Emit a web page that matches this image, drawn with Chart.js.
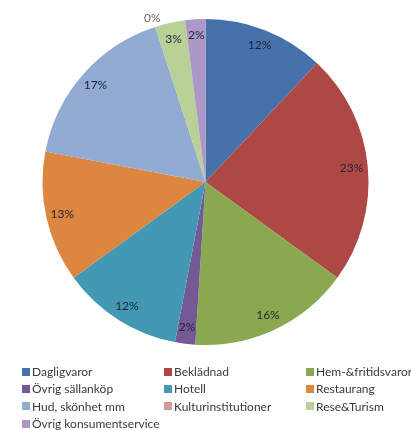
<!DOCTYPE html>
<html lang="sv">
<head>
<meta charset="utf-8">
<script src="https://cdn.jsdelivr.net/npm/chart.js@4.4.0/dist/chart.umd.min.js"></script>
<style>
    html, body { margin: 0; padding: 0; background: #fff; }
    #contenedor { position: relative; width: 411px; height: 430px; }
    #leyenda {
        position: absolute; left: 22px; top: 363px;
        display: grid; grid-template-columns: 142px 142px 100px;
        font: 12px Lato, sans-serif; color: #3a3a3a;
    }
    .item { display: flex; align-items: center; height: 17.3px; white-space: nowrap; }
    .caja { width: 8px; height: 8px; margin-right: 2px; flex: none; }
</style>
</head>
<body>
<div id="contenedor">
    <canvas id="grafico" width="411" height="430"></canvas>
    <div id="leyenda"></div>
</div>
<script>
// Categorías y porcentajes
const categorias = [
    'Dagligvaror', 'Beklädnad', 'Hem-&fritidsvaror', 'Övrig sällanköp', 'Hotell',
    'Restaurang', 'Hud, skönhet mm', 'Kulturinstitutioner', 'Rese&Turism', 'Övrig konsumentservice'
];
const valores = [12, 23, 16, 2, 12, 13, 17, 0, 3, 2];
const colores = [
    '#4671AA', '#AD4845', '#8AA84F', '#735A94', '#4399B3',
    '#DC8640', '#92ABD2', '#D39A98', '#B9D096', '#AC98C6'
];

// Etiquetas de porcentaje dentro de cada porción
const etiquetasPlugin = {
    id: 'etiquetasPorcentaje',
    afterDatasetsDraw(chart) {
        const ctx = chart.ctx;
        const meta = chart.getDatasetMeta(0);
        ctx.save();
        ctx.font = '12px Lato, sans-serif';
        ctx.textAlign = 'center';
        ctx.textBaseline = 'middle';
        meta.data.forEach((arco, i) => {
            const p = arco.getProps(['x', 'y', 'startAngle', 'endAngle', 'outerRadius'], true);
            const medio = (p.startAngle + p.endAngle) / 2;
            const r = valores[i] === 0 ? p.outerRadius + 9 : p.outerRadius * 0.9;
            ctx.fillStyle = valores[i] === 0 ? '#6a6a6a' : '#1f2438';
            ctx.fillText(valores[i] + '%', p.x + Math.cos(medio) * r, p.y + Math.sin(medio) * r);
        });
        ctx.restore();
    }
};

new Chart(document.getElementById('grafico'), {
    type: 'pie',
    data: {
        labels: categorias,
        datasets: [{
            data: valores,
            backgroundColor: colores,
            borderWidth: 0
        }]
    },
    options: {
        responsive: false,
        animation: false,
        layout: { padding: { top: 19, bottom: 85, left: 0, right: 0 } },
        plugins: {
            legend: { display: false },
            tooltip: { enabled: false }
        }
    },
    plugins: [etiquetasPlugin]
});

// Leyenda en tres columnas
const leyenda = document.getElementById('leyenda');
categorias.forEach((nombre, i) => {
    const item = document.createElement('div');
    item.className = 'item';
    const caja = document.createElement('span');
    caja.className = 'caja';
    caja.style.background = colores[i];
    const texto = document.createElement('span');
    texto.textContent = nombre;
    item.appendChild(caja);
    item.appendChild(texto);
    leyenda.appendChild(item);
});
</script>
</body>
</html>
